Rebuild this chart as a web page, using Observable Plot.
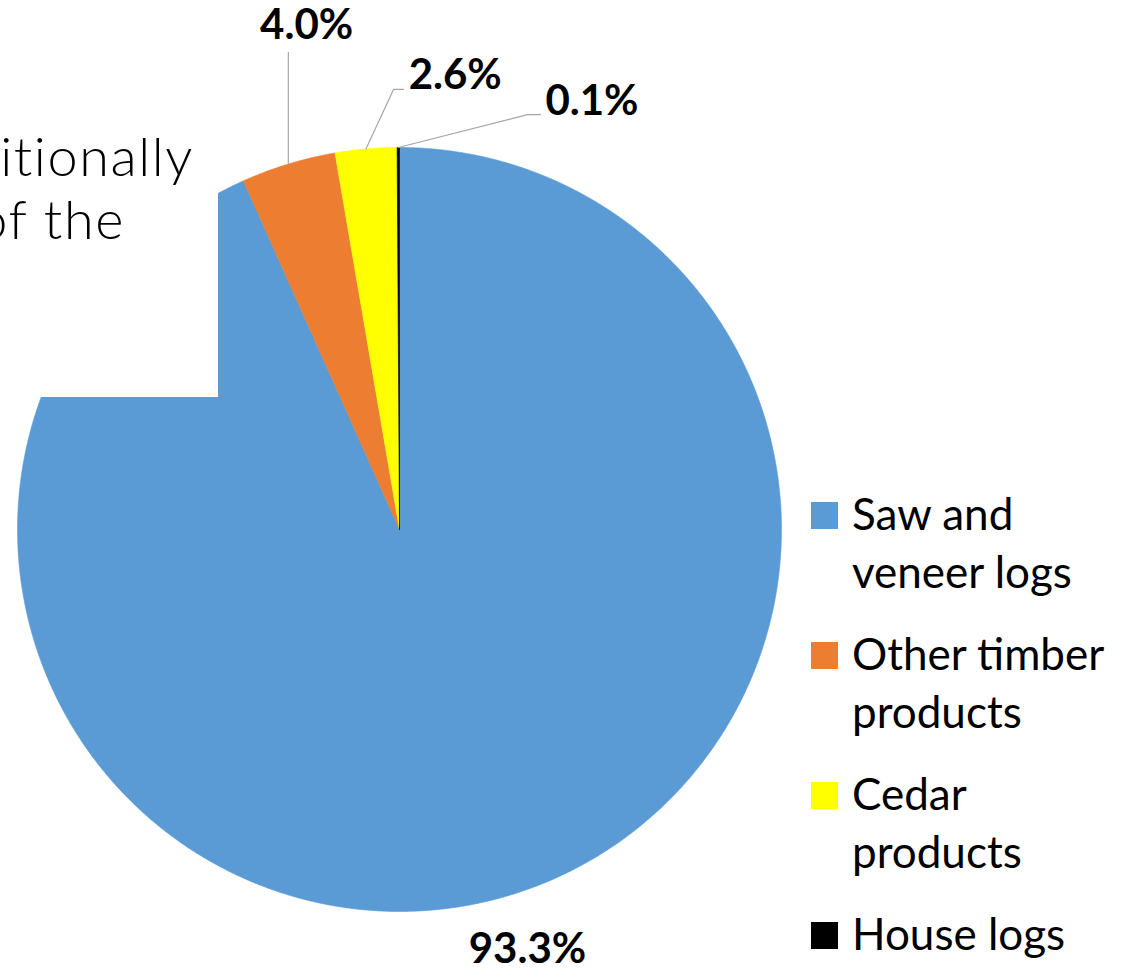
<!DOCTYPE html>
<html><head><meta charset="utf-8">
<script src="https://cdn.jsdelivr.net/npm/d3@7"></script>
<script src="https://cdn.jsdelivr.net/npm/@observablehq/plot@0.6"></script>
<style>
html,body{margin:0;padding:0;background:#fff;overflow:hidden;}
#wrap{position:relative;width:1127px;height:980px;font-family:Lato,"Open Sans",sans-serif;}
#chart svg{display:block;}
#cover{position:absolute;left:0;top:0;width:218px;height:397px;background:#fff;overflow:hidden;}
.cl{position:absolute;white-space:nowrap;font-family:Lato,sans-serif;font-weight:300;font-size:54px;line-height:54px;letter-spacing:1.6px;color:#000;}
#legend{position:absolute;left:811px;top:484px;}
.item{display:flex;align-items:flex-start;margin-bottom:24px;}
.sw{width:27px;height:27px;margin-top:18px;margin-right:14px;flex:none;}
.lt{font-size:44px;line-height:58px;max-width:275px;color:#000;}
</style></head>
<body>
<div id="wrap">
  <div id="chart"></div>
  <div id="cover"><span class="cl" style="right:24px;top:129px">itionally</span><span class="cl" style="right:93px;top:192px">of the</span></div>
  <div id="legend"></div>
</div>
<script>
// ---- data ----
const categories = ["Saw and veneer logs", "Other timber products", "Cedar products", "House logs"];
const shares = [93.3, 4.0, 2.6, 0.1];
const percentLabels = ["93.3%", "4.0%", "2.6%", "0.1%"];
const colors = ["#5B9BD5", "#ED7D31", "#FFFF00", "#000000"];

// ---- layout (radius units from pie centre) ----
const W = 1127, H = 980, R = 382, CX = 399, CY = 529;
const labelLayout = [
  {pos: [0.335, -1.100], anchor: "middle", leader: []},
  {pos: [-0.243, 1.318], anchor: "middle", leader: [[-0.291, 1.249]]},
  {pos: [0.024, 1.188], anchor: "start", leader: [[-0.0157, 1.152], [0.0105, 1.152]]},
  {pos: [0.382, 1.120], anchor: "start", leader: [[0.335, 1.086], [0.369, 1.086]]}
];

const rows = categories.map((c, i) => ({category: c, share: shares[i], label: percentLabels[i], layout: labelLayout[i]}));
const arcs = d3.pie().sort(null).value(d => d.share)(rows);

const poly = [];
for (const s of arcs) {
  const c = s.data.category;
  const n = Math.max(2, Math.ceil((s.endAngle - s.startAngle) / 0.004));
  poly.push({category: c, x: 0, y: 0});
  for (let i = 0; i <= n; i++) {
    const a = s.startAngle + (s.endAngle - s.startAngle) * i / n;
    poly.push({category: c, x: Math.sin(a), y: Math.cos(a)});
  }
  poly.push({category: c, x: 0, y: 0});
}

const leaders = [];
const labels = [];
for (const s of arcs) {
  const L = s.data.layout;
  const mid = (s.startAngle + s.endAngle) / 2;
  if (L.leader.length) {
    leaders.push({id: s.data.category, x: Math.sin(mid), y: Math.cos(mid)});
    for (const p of L.leader) leaders.push({id: s.data.category, x: p[0], y: p[1]});
  }
  labels.push({x: L.pos[0], y: L.pos[1], text: s.data.label, anchor: L.anchor});
}

const plot = Plot.plot({
  width: W, height: H,
  marginTop: 0, marginRight: 0, marginBottom: 0, marginLeft: 0,
  x: {domain: [-CX / R, (W - CX) / R], axis: null},
  y: {domain: [-(H - CY) / R, CY / R], axis: null},
  color: {domain: categories, range: colors},
  style: {background: "transparent"},
  marks: [
    Plot.line(poly, {x: "x", y: "y", z: "category", fill: "category", stroke: "category", strokeWidth: 0.6, curve: "linear"}),
    Plot.line(leaders, {x: "x", y: "y", z: "id", stroke: "#A6A6A6", strokeWidth: 1.2}),
    Plot.text(labels.filter(d => d.anchor === "middle"), {x: "x", y: "y", text: "text", textAnchor: "middle", fontSize: 42, fontWeight: "bold", fontFamily: "Lato, sans-serif", fill: "#000"}),
    Plot.text(labels.filter(d => d.anchor === "start"), {x: "x", y: "y", text: "text", textAnchor: "start", fontSize: 42, fontWeight: "bold", fontFamily: "Lato, sans-serif", fill: "#000"})
  ]
});
document.getElementById("chart").appendChild(plot);

const scale = plot.scale("color");
const legend = document.getElementById("legend");
categories.forEach(c => {
  const it = document.createElement("div");
  it.className = "item";
  const sw = document.createElement("div");
  sw.className = "sw";
  sw.style.background = scale.apply(c);
  const t = document.createElement("div");
  t.className = "lt";
  t.textContent = c;
  it.appendChild(sw); it.appendChild(t);
  legend.appendChild(it);
});
</script>
</body></html>
